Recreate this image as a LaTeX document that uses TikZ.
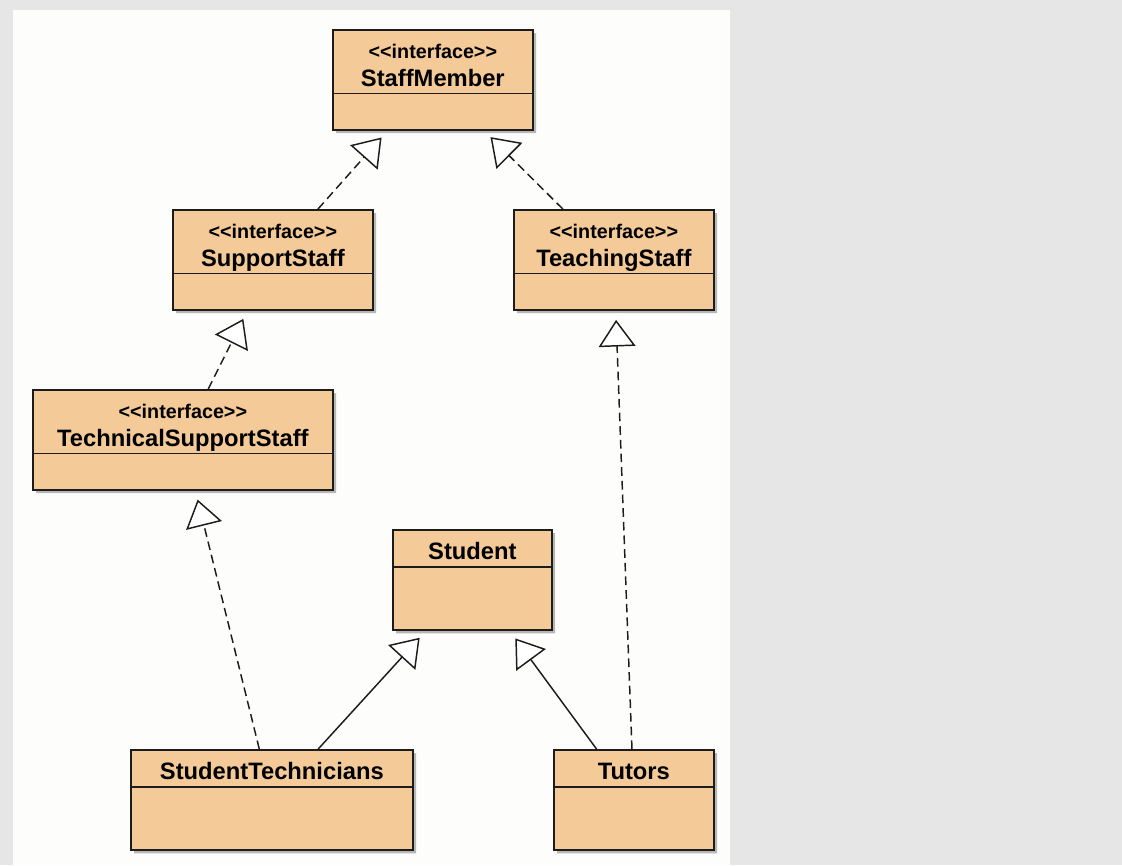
\documentclass[tikz,border=0pt]{standalone}
\usepackage{fontspec}
\setmainfont{Liberation Sans}
\usepackage{tikz}
\usetikzlibrary{arrows.meta,shapes.multipart,shadows}
\definecolor{pagec}{HTML}{E6E6E6}
\definecolor{panelc}{HTML}{FDFDFB}
\definecolor{clsc}{HTML}{F3CA98}
\definecolor{edgec}{HTML}{1C1C1C}
\newcommand{\ster}{{\fontsize{14.8}{16}\selectfont <\kern0pt<interface>\kern0pt>}}
\newcommand{\ifbox}[2]{\parbox[c][46.5pt][t]{#1}{\centering\rule{0pt}{21pt}\ster\\#2}\nodepart{second}\parbox[c][25.75pt]{#1}{}}
\newcommand{\clbox}[2]{\parbox[c][26.5pt][t]{#1}{\centering\rule{0pt}{21.6pt}#2}\nodepart{second}\parbox[c][46pt]{#1}{}}
\tikzset{
  ar/.style={-{Triangle[length=20pt,width=27.5pt,fill=white]},line width=1.1pt,edgec,shorten >=7pt},
  dar/.style={ar,dash pattern=on 6.5pt off 3.75pt},
  box/.style={rectangle split,rectangle split parts=2,draw=edgec,line width=1.3pt,fill=clsc,inner sep=0pt,anchor=north west,
    font=\bfseries\fontsize{17.8}{21}\selectfont,
    drop shadow={shadow xshift=2.5pt,shadow yshift=-2.5pt,fill=black!55,opacity=.5}}
}
\begin{document}
\begin{tikzpicture}[x=0.75pt,y=-0.75pt]
\useasboundingbox (0,0) rectangle (1122,865);
\fill[pagec] (0,0) rectangle (1122,865);
\fill[panelc] (13,10) rectangle (730,865);
% interfaces
\node[box] (staff) at (332,29) {\ifbox{150pt}{StaffMember}};
\node[box] (support) at (172,209) {\ifbox{150pt}{SupportStaff}};
\node[box] (teach) at (513,209) {\ifbox{150pt}{TeachingStaff}};
\node[box] (tech) at (32,389) {\ifbox{225pt}{TechnicalSupportStaff}};
% classes
\node[box] (student) at (392,529) {\clbox{119.25pt}{Student}};
\node[box] (stech) at (130,749) {\clbox{211.5pt}{StudentTechnicians}};
\node[box] (tutors) at (553,749) {\clbox{120pt}{Tutors}};
% realizations
\draw[dar] (support) -- (staff);
\draw[dar] (teach) -- (staff);
\draw[dar] (tech) -- (support);
\draw[dar] (tutors) -- (teach);
\draw[dar] (stech) -- (tech);
% generalizations
\draw[ar] (stech) -- (student);
\draw[ar] (tutors) -- (student);
\end{tikzpicture}
\end{document}
